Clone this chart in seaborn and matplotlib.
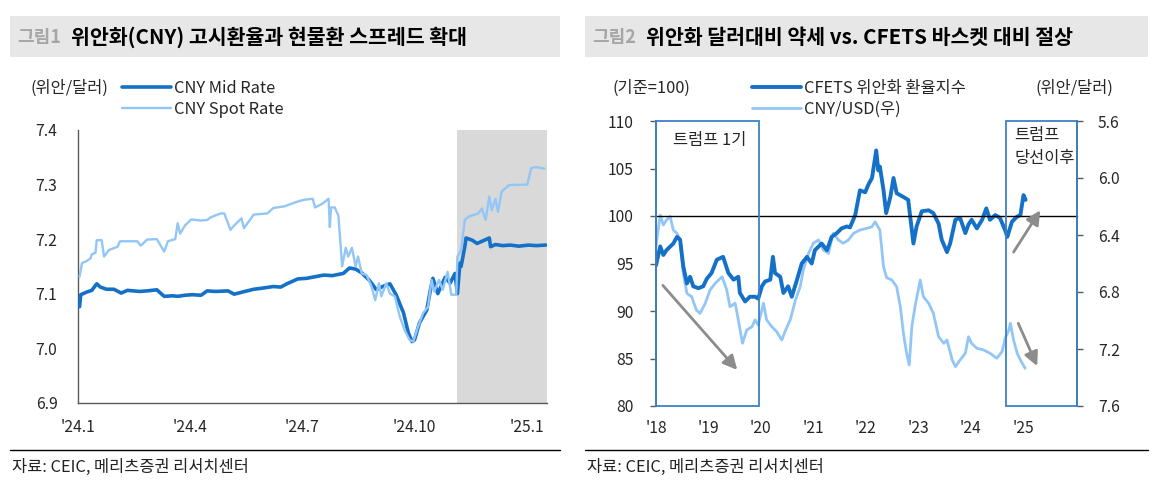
import numpy as np
import pandas as pd
import matplotlib
matplotlib.use('Agg')
import matplotlib.pyplot as plt
from matplotlib.patches import Rectangle
from matplotlib.lines import Line2D
import seaborn as sns

# ---------------- data: figure 1 (daily CNY, 2024) ----------------
mid_dates = ['2024-01-02', '2024-01-03', '2024-01-08', '2024-01-12', '2024-01-16', '2024-01-19',
             '2024-01-24', '2024-01-30', '2024-02-05', '2024-02-10', '2024-02-20', '2024-02-26',
             '2024-03-05', '2024-03-11', '2024-03-18', '2024-03-22', '2024-03-28', '2024-04-03',
             '2024-04-10', '2024-04-15', '2024-04-22', '2024-05-02', '2024-05-07', '2024-05-14',
             '2024-05-23', '2024-05-30', '2024-06-08', '2024-06-14', '2024-06-19', '2024-06-28',
             '2024-07-05', '2024-07-12', '2024-07-19', '2024-07-26', '2024-08-04', '2024-08-09',
             '2024-08-14', '2024-08-19', '2024-08-25', '2024-08-31', '2024-09-05', '2024-09-11',
             '2024-09-16', '2024-09-22', '2024-09-26', '2024-09-29', '2024-10-01', '2024-10-05',
             '2024-10-11', '2024-10-14', '2024-10-16', '2024-10-20', '2024-10-26', '2024-10-30',
             '2024-11-03', '2024-11-05', '2024-11-07', '2024-11-08', '2024-11-11', '2024-11-12',
             '2024-11-17', '2024-11-21', '2024-11-25', '2024-12-01', '2024-12-02', '2024-12-06',
             '2024-12-12', '2024-12-18', '2024-12-25', '2025-01-02', '2025-01-08', '2025-01-16']
mid_rate = [7.076, 7.098, 7.103, 7.106, 7.118, 7.112, 7.108, 7.108, 7.101, 7.106, 7.104, 7.105,
            7.107, 7.095, 7.096, 7.095, 7.097, 7.098, 7.097, 7.105, 7.104, 7.105, 7.099, 7.103,
            7.108, 7.110, 7.113, 7.112, 7.118, 7.127, 7.128, 7.131, 7.134, 7.133, 7.137, 7.147,
            7.145, 7.138, 7.125, 7.107, 7.113, 7.118, 7.098, 7.065, 7.028, 7.012, 7.015, 7.046,
            7.070, 7.107, 7.128, 7.100, 7.130, 7.119, 7.137, 7.100, 7.156, 7.150, 7.186, 7.202,
            7.198, 7.192, 7.196, 7.202, 7.186, 7.190, 7.188, 7.189, 7.187, 7.189, 7.188, 7.189]

spot_dates = ['2024-01-02', '2024-01-04', '2024-01-08', '2024-01-11', '2024-01-12', '2024-01-15',
              '2024-01-16', '2024-01-20', '2024-01-22', '2024-01-26', '2024-02-02', '2024-02-04',
              '2024-02-18', '2024-02-21', '2024-02-26', '2024-03-05', '2024-03-11', '2024-03-14',
              '2024-03-20', '2024-03-22', '2024-03-24', '2024-03-28', '2024-04-02', '2024-04-10',
              '2024-04-15', '2024-04-18', '2024-04-26', '2024-04-29', '2024-05-04', '2024-05-07',
              '2024-05-13', '2024-05-15', '2024-05-23', '2024-06-03', '2024-06-08', '2024-06-17',
              '2024-06-28', '2024-07-03', '2024-07-10', '2024-07-12', '2024-07-18', '2024-07-23',
              '2024-07-24', '2024-07-25', '2024-07-28', '2024-07-31', '2024-08-03', '2024-08-06',
              '2024-08-08', '2024-08-11', '2024-08-14', '2024-08-16', '2024-08-19', '2024-08-23',
              '2024-08-27', '2024-08-30', '2024-09-02', '2024-09-04', '2024-09-08', '2024-09-11',
              '2024-09-15', '2024-09-19', '2024-09-23', '2024-09-27', '2024-09-30', '2024-10-04',
              '2024-10-08', '2024-10-12', '2024-10-15', '2024-10-17', '2024-10-21', '2024-10-24',
              '2024-10-28', '2024-10-31', '2024-11-04', '2024-11-05', '2024-11-08', '2024-11-11',
              '2024-11-14', '2024-11-22', '2024-11-25', '2024-11-28', '2024-12-01', '2024-12-03',
              '2024-12-06', '2024-12-08', '2024-12-11', '2024-12-17', '2025-01-01', '2025-01-04',
              '2025-01-08', '2025-01-15']
spot_rate = [7.131, 7.156, 7.160, 7.165, 7.172, 7.175,
             7.198, 7.198, 7.168, 7.180, 7.186, 7.196,
             7.196, 7.188, 7.199, 7.200, 7.177, 7.196,
             7.200, 7.229, 7.210, 7.225, 7.236, 7.234,
             7.235, 7.240, 7.247, 7.247, 7.217, 7.225,
             7.238, 7.220, 7.245, 7.247, 7.257, 7.260,
             7.269, 7.272, 7.274, 7.258, 7.265, 7.274,
             7.222, 7.258, 7.258, 7.243, 7.150, 7.184,
             7.168, 7.184, 7.150, 7.168, 7.137, 7.134,
             7.113, 7.088, 7.119, 7.095, 7.119, 7.100,
             7.095, 7.058, 7.033, 7.015, 7.012, 7.040,
             7.064, 7.076, 7.125, 7.104, 7.125, 7.107,
             7.140, 7.098, 7.098, 7.168, 7.180, 7.235,
             7.241, 7.247, 7.256, 7.235, 7.278, 7.253,
             7.274, 7.250, 7.287, 7.299, 7.300, 7.330,
             7.332, 7.329]

fig1_xticks = ['2024-01-01', '2024-04-01', '2024-07-01', '2024-10-01', '2025-01-01']
fig1_xlabels = ["'24.1", "'24.4", "'24.7", "'24.10", "'25.1"]
fig1_yticks = [6.9, 7.0, 7.1, 7.2, 7.3, 7.4]

# ---------------- data: figure 2 (2018-2025) ----------------
cfets_year = [2018.00, 2018.08, 2018.14, 2018.20, 2018.33, 2018.40, 2018.46, 2018.52, 2018.59, 2018.65,
              2018.71, 2018.81, 2018.90, 2018.97, 2019.06, 2019.16, 2019.28, 2019.38, 2019.48, 2019.57,
              2019.60, 2019.70, 2019.79, 2019.89, 2019.95, 2020.02, 2020.08, 2020.18, 2020.23, 2020.27,
              2020.37, 2020.43, 2020.52, 2020.59, 2020.69, 2020.78, 2020.88, 2020.97, 2021.03, 2021.16,
              2021.26, 2021.35, 2021.45, 2021.54, 2021.64, 2021.70, 2021.80, 2021.89, 2021.99, 2022.05,
              2022.12, 2022.20, 2022.24, 2022.27, 2022.34, 2022.39, 2022.47, 2022.53, 2022.59, 2022.72,
              2022.81, 2022.88, 2022.91, 2022.97, 2023.07, 2023.20, 2023.29, 2023.39, 2023.45, 2023.55,
              2023.61, 2023.71, 2023.80, 2023.90, 2023.96, 2024.02, 2024.12, 2024.22, 2024.30, 2024.37,
              2024.47, 2024.56, 2024.66, 2024.70, 2024.79, 2024.88, 2024.95, 2025.01, 2025.05]
cfets_index = [94.8, 96.8, 95.9, 96.4, 97.1, 97.8, 97.5, 94.7, 92.9, 93.6,
               92.6, 92.4, 92.6, 93.4, 94.0, 95.4, 95.7, 94.0, 93.3, 93.6,
               91.9, 91.0, 91.5, 91.5, 91.3, 92.6, 93.1, 93.3, 95.7, 94.0,
               93.6, 91.9, 92.6, 91.5, 93.3, 95.0, 95.7, 95.0, 96.4, 97.1,
               96.4, 97.8, 98.2, 98.7, 98.9, 98.8, 100.1, 102.7, 102.5, 103.3,
               104.0, 106.9, 104.8, 105.2, 102.7, 100.3, 102.0, 104.0, 102.4, 102.0,
               101.7, 98.5, 97.1, 98.9, 100.5, 100.6, 100.3, 99.2, 97.5, 96.2,
               97.1, 99.6, 99.8, 98.2, 99.1, 99.6, 98.7, 99.6, 100.8, 99.6,
               100.1, 99.8, 98.5, 97.8, 99.4, 99.9, 100.1, 102.2, 101.7]

usd_year = [2018.00, 2018.08, 2018.14, 2018.20, 2018.27, 2018.33, 2018.40, 2018.46, 2018.52, 2018.59,
            2018.68, 2018.77, 2018.84, 2018.94, 2019.03, 2019.13, 2019.26, 2019.35, 2019.41, 2019.51,
            2019.57, 2019.65, 2019.73, 2019.83, 2019.89, 2019.95, 2020.05, 2020.11, 2020.21, 2020.30,
            2020.40, 2020.46, 2020.56, 2020.66, 2020.75, 2020.81, 2020.91, 2021.00, 2021.10, 2021.19,
            2021.29, 2021.38, 2021.48, 2021.57, 2021.67, 2021.77, 2021.89, 2022.02, 2022.12, 2022.18,
            2022.27, 2022.34, 2022.40, 2022.50, 2022.59, 2022.66, 2022.72, 2022.78, 2022.83, 2022.88,
            2022.94, 2023.04, 2023.10, 2023.20, 2023.29, 2023.39, 2023.49, 2023.55, 2023.65, 2023.71,
            2023.80, 2023.90, 2023.96, 2024.02, 2024.12, 2024.25, 2024.37, 2024.50, 2024.60, 2024.66,
            2024.73, 2024.76, 2024.82, 2024.89, 2024.95, 2025.04]
cny_usd = [6.480, 6.260, 6.330, 6.295, 6.270, 6.365, 6.388, 6.435, 6.669, 6.810,
           6.833, 6.926, 6.950, 6.879, 6.786, 6.739, 6.693, 6.786, 6.903, 6.879,
           6.996, 7.160, 7.067, 7.044, 6.996, 7.032, 6.879, 6.996, 7.044, 7.078,
           7.137, 7.078, 6.996, 6.856, 6.763, 6.646, 6.528, 6.458, 6.435, 6.505,
           6.528, 6.388, 6.435, 6.458, 6.435, 6.388, 6.365, 6.353, 6.342, 6.307,
           6.365, 6.623, 6.700, 6.716, 6.763, 6.903, 7.090, 7.230, 7.312, 7.044,
           6.903, 6.716, 6.833, 6.879, 6.950, 7.114, 7.160, 7.137, 7.277, 7.324,
           7.277, 7.230, 7.114, 7.160, 7.195, 7.207, 7.230, 7.265, 7.218, 7.125,
           7.067, 7.020, 7.137, 7.230, 7.277, 7.335]

fig2_years = [2018, 2019, 2020, 2021, 2022, 2023, 2024, 2025]
fig2_xlabels = ["'18", "'19", "'20", "'21", "'22", "'23", "'24", "'25"]
fig2_left_ticks = [80, 85, 90, 95, 100, 105, 110]
fig2_right_ticks = [5.6, 6.0, 6.4, 6.8, 7.2, 7.6]

# ---------------- style ----------------
sns.set_theme(style='white')
plt.rcParams['font.family'] = ['Noto Sans CJK KR', 'DejaVu Sans']
plt.rcParams['axes.unicode_minus'] = False

DARK = '#1570C8'
LIGHT = '#92C6F6'
SPINE = '#595959'
BOXC = '#3A80C8'
ARROW = '#8C8C8C'
TICK_FS = 11.3
LEG_FS = 11.8

W, H = 1158, 483
fig = plt.figure(figsize=(W / 100, H / 100), dpi=100)


def fx(px):
    return px / W


def fy(py):
    return 1 - py / H


# ---------------- panel headers / footers ----------------
for x0, x1, num, title in [(10, 560, '그림1', '위안화(CNY) 고시환율과 현물환 스프레드 확대'),
                           (585, 1148, '그림2', '위안화 달러대비 약세 vs. CFETS 바스켓 대비 절상')]:
    fig.add_artist(Rectangle((fx(x0), fy(57)), fx(x1 - x0), 41 / H, transform=fig.transFigure,
                             facecolor='#E7E7E7', edgecolor='none', zorder=0))
    fig.text(fx(x0 + 7), fy(37), num, color='#A6A6A6', fontsize=13, fontweight='bold',
             va='center', ha='left')
    fig.text(fx(x0 + 61), fy(37), title, color='black', fontsize=14.8, fontweight='bold',
             va='center', ha='left')
    fig.add_artist(Line2D([fx(x0), fx(x1)], [fy(450), fy(450)], transform=fig.transFigure,
                          color='black', lw=1))
    fig.text(fx(x0 + 2), fy(467), '자료: CEIC, 메리츠증권 리서치센터', fontsize=11.8,
             va='center', ha='left', color='#222222')

# ---------------- figure 1 ----------------
ax1 = fig.add_axes([fx(78.3), fy(402.7), fx(547 - 78.3), (402.7 - 130) / H])
df_mid = pd.DataFrame({'date': pd.to_datetime(mid_dates), 'rate': mid_rate})
df_spot = pd.DataFrame({'date': pd.to_datetime(spot_dates), 'rate': spot_rate})
ax1.axvspan(pd.Timestamp('2024-11-05'), pd.Timestamp('2025-01-17'), color='#D9D9D9', lw=0, zorder=0)
sns.lineplot(data=df_mid, x='date', y='rate', ax=ax1, color=DARK, lw=2.6, label='CNY Mid Rate', zorder=3)
sns.lineplot(data=df_spot, x='date', y='rate', ax=ax1, color=LIGHT, lw=1.7, label='CNY Spot Rate', zorder=4)
ax1.set_xlim(pd.Timestamp('2024-01-01'), pd.Timestamp('2025-01-17'))
ax1.set_ylim(6.9, 7.4)
ax1.set_xticks(pd.to_datetime(fig1_xticks))
ax1.set_xticklabels(fig1_xlabels)
ax1.set_yticks(fig1_yticks)
ax1.set_yticklabels([f'{v:.1f}' for v in fig1_yticks])
ax1.set_xlabel('')
ax1.set_ylabel('')
ax1.grid(False)
for s in ['top', 'right']:
    ax1.spines[s].set_visible(False)
for s in ['left', 'bottom']:
    ax1.spines[s].set_color(SPINE)
    ax1.spines[s].set_linewidth(1)
ax1.tick_params(axis='y', direction='out', length=5, width=1, color=SPINE, pad=10, labelsize=TICK_FS)
ax1.tick_params(axis='x', direction='out', length=5, width=1, color=SPINE, pad=7, labelsize=TICK_FS)
ax1.legend(loc='upper left', bbox_to_anchor=(fx(122), fy(80)), bbox_transform=fig.transFigure,
           frameon=False, handlelength=3.0, handletextpad=0.15, labelspacing=0.22, fontsize=LEG_FS,
           borderpad=0, borderaxespad=0)
fig.text(fx(31), fy(88), '(위안/달러)', fontsize=LEG_FS, va='center', ha='left')

# ---------------- figure 2 ----------------
XR = 2026.03
ax = fig.add_axes([fx(656), fy(406), fx(1077 - 656), 285 / H])
ax2 = ax.twinx()
sns.lineplot(x=usd_year, y=cny_usd, ax=ax2, color=LIGHT, lw=2.0, label='CNY/USD(우)')
sns.lineplot(x=cfets_year, y=cfets_index, ax=ax, color=DARK, lw=2.8, label='CFETS 위안화 환율지수')
ax.set_zorder(ax2.get_zorder() + 1)
ax.patch.set_visible(False)
ax.set_xlim(2018.0, XR)
ax.set_ylim(80, 110)
ax2.set_ylim(7.6, 5.6)
ax.set_yticks(fig2_left_ticks)
ax.set_yticklabels([str(v) for v in fig2_left_ticks])
ax2.set_yticks(fig2_right_ticks)
ax2.set_yticklabels([f'{v:.1f}' for v in fig2_right_ticks])
for a in (ax, ax2):
    a.set_xlabel('')
    a.set_ylabel('')
    a.grid(False)
ax.spines['bottom'].set_position(('data', 100))
ax.spines['bottom'].set_color('black')
ax.spines['bottom'].set_linewidth(1)
ax.spines['left'].set_color(SPINE)
ax.spines['top'].set_visible(False)
ax.spines['right'].set_visible(False)
for s in ['top', 'bottom', 'left']:
    ax2.spines[s].set_visible(False)
ax2.spines['right'].set_color(SPINE)
ax.set_xticks(fig2_years)
ax.tick_params(axis='x', direction='out', length=4, width=1, color='black', labelbottom=False)
ax.tick_params(axis='y', direction='out', length=4, width=1, color=SPINE, pad=12, labelsize=TICK_FS)
ax2.tick_params(axis='y', direction='out', length=4, width=1, color=SPINE, pad=11, labelsize=TICK_FS)
sec = ax.secondary_xaxis(0)
sec.set_xticks(fig2_years)
sec.set_xticklabels(fig2_xlabels)
sec.tick_params(length=0, pad=10, labelsize=TICK_FS)
sec.spines['bottom'].set_visible(False)

# Trump-era boxes
ax.add_patch(Rectangle((2018.0, 80), 2019.97 - 2018.0, 30, fill=False, edgecolor=BOXC, lw=1.3,
                       clip_on=False, zorder=5))
ax.add_patch(Rectangle((2024.68, 80), XR - 2024.68, 30, fill=False, edgecolor=BOXC, lw=1.3,
                       clip_on=False, zorder=5))
ax.text(2018.32, 108.0, '트럼프 1기', fontsize=LEG_FS, va='center', ha='left')
ax.text(2024.84, 108.5, '트럼프', fontsize=LEG_FS, va='center', ha='left')
ax.text(2024.84, 106.1, '당선이후', fontsize=LEG_FS, va='center', ha='left')

# trend arrows
arrow_kw = dict(arrowstyle='-|>,head_length=0.7,head_width=0.35', color=ARROW, lw=2, shrinkA=0, shrinkB=0)
ax.annotate('', xy=(2019.55, 83.8), xytext=(2018.13, 92.7), arrowprops=arrow_kw)
ax.annotate('', xy=(2025.33, 100.6), xytext=(2024.82, 96.2), arrowprops=arrow_kw)
ax.annotate('', xy=(2025.27, 84.2), xytext=(2024.91, 88.7), arrowprops=arrow_kw)

# legend combining both axes
h1, l1 = ax.get_legend_handles_labels()
h2, l2 = ax2.get_legend_handles_labels()
if ax2.get_legend() is not None:
    ax2.get_legend().remove()
ax.legend(h1 + h2, l1 + l2, loc='upper left', bbox_to_anchor=(fx(752), fy(80)),
          bbox_transform=fig.transFigure, frameon=False, handlelength=3.0, handletextpad=0.15,
          labelspacing=0.22, fontsize=LEG_FS, borderpad=0, borderaxespad=0)
fig.text(fx(612), fy(88), '(기준=100)', fontsize=LEG_FS, va='center', ha='left')
fig.text(fx(1113), fy(88), '(위안/달러)', fontsize=LEG_FS, va='center', ha='right')

fig.savefig('out.png', dpi=100)
